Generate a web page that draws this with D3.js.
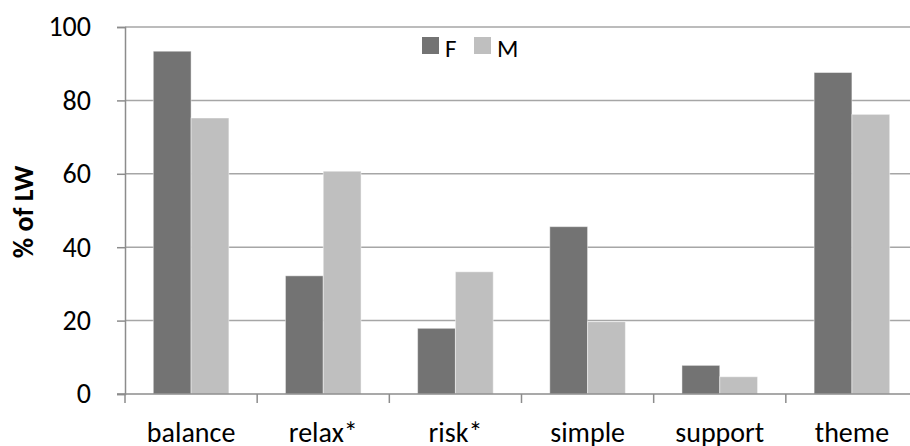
<!DOCTYPE html>
<html>
<head>
<meta charset="utf-8">
<script src="https://cdn.jsdelivr.net/npm/d3@7"></script>
<style>
  html, body { margin: 0; padding: 0; background: #fff; }
  svg { display: block; }
  text { font-family: Carlito, Calibri, "Liberation Sans", Arial, sans-serif; fill: #000; }
</style>
</head>
<body>
<svg id="chart" width="910" height="446"></svg>
<script>
const categories = ["balance", "relax*", "risk*", "simple", "support", "theme"];
const seriesNames = ["F", "M"];
const valuesF = [93.4, 32.2, 17.9, 45.6, 7.8, 87.6];
const valuesM = [75.2, 60.7, 33.3, 19.7, 4.7, 76.2];
const yTicks = [0, 20, 40, 60, 80, 100];
const colors = ["#737373", "#bfbfbf"];

const svg = d3.select("#chart");
const mLeft = 125, mRight = 918, mTop = 27, mBottom = 394;

const x0 = d3.scaleBand().domain(categories).range([mLeft, mRight]).padding(0);
const step = x0.bandwidth();
const x1 = d3.scaleBand().domain(seriesNames).range([step * 0.214, step * 0.786]).padding(0);
const y = d3.scaleLinear().domain([0, 100]).range([mBottom, mTop]);
const color = d3.scaleOrdinal().domain(seriesNames).range(colors);

// gridlines
svg.append("g")
  .selectAll("line")
  .data(yTicks.filter(d => d > 0))
  .join("line")
  .attr("x1", mLeft).attr("x2", 910)
  .attr("y1", d => y(d)).attr("y2", d => y(d))
  .attr("stroke", "#a6a6a6").attr("stroke-width", 1.5);

// bars
const data = categories.map((c, i) => ({ cat: c, vals: [{ s: "F", v: valuesF[i] }, { s: "M", v: valuesM[i] }] }));
const groups = svg.append("g").selectAll("g")
  .data(data).join("g")
  .attr("transform", d => `translate(${x0(d.cat)},0)`);
groups.selectAll("rect")
  .data(d => d.vals).join("rect")
  .attr("x", d => x1(d.s))
  .attr("width", x1.bandwidth())
  .attr("y", d => y(d.v))
  .attr("height", d => y(0) - y(d.v))
  .attr("fill", d => color(d.s))
  .attr("stroke", "rgba(255,255,255,0.45)")
  .attr("stroke-width", 1);

// y axis
const yAxis = d3.axisLeft(y).tickValues(yTicks).tickSize(8).tickPadding(26);
const gy = svg.append("g").attr("transform", `translate(${mLeft},0)`).call(yAxis);
gy.select(".domain").attr("stroke", "#8c8c8c").attr("stroke-width", 1.5);
gy.selectAll(".tick line").attr("stroke", "#8c8c8c").attr("stroke-width", 1.5);
gy.selectAll(".tick text").attr("font-size", 28).attr("font-family", null).attr("fill", "#000");

// x axis
const xAxis = d3.axisBottom(x0).tickSize(0).tickPadding(28);
const gx = svg.append("g").attr("transform", `translate(0,${mBottom})`).call(xAxis);
gx.select(".domain").remove();
gx.append("line").attr("x1", 117).attr("x2", 910).attr("y1", 0).attr("y2", 0)
  .attr("stroke", "#8c8c8c").attr("stroke-width", 1.5);
gx.selectAll(".tick text").attr("font-size", 28).attr("font-family", null).attr("fill", "#000");
// category boundary ticks
gx.append("g").selectAll("line")
  .data(categories)
  .join("line")
  .attr("x1", d => x0(d)).attr("x2", d => x0(d))
  .attr("y1", 0).attr("y2", 9)
  .attr("stroke", "#8c8c8c").attr("stroke-width", 1.5);

// y title
svg.append("text")
  .attr("transform", `translate(33,212) rotate(-90)`)
  .attr("text-anchor", "middle")
  .attr("font-size", 28)
  .attr("font-weight", "bold")
  .text("% of LW");

// legend
const legendX = [422, 474];
const lg = svg.append("g").selectAll("g").data(seriesNames).join("g")
  .attr("transform", (d, i) => `translate(${legendX[i]},37)`);
lg.append("rect").attr("width", 17).attr("height", 17).attr("fill", d => color(d));
lg.append("text").attr("x", 23).attr("y", 19.5).attr("font-size", 25).text(d => d);
</script>
</body>
</html>
